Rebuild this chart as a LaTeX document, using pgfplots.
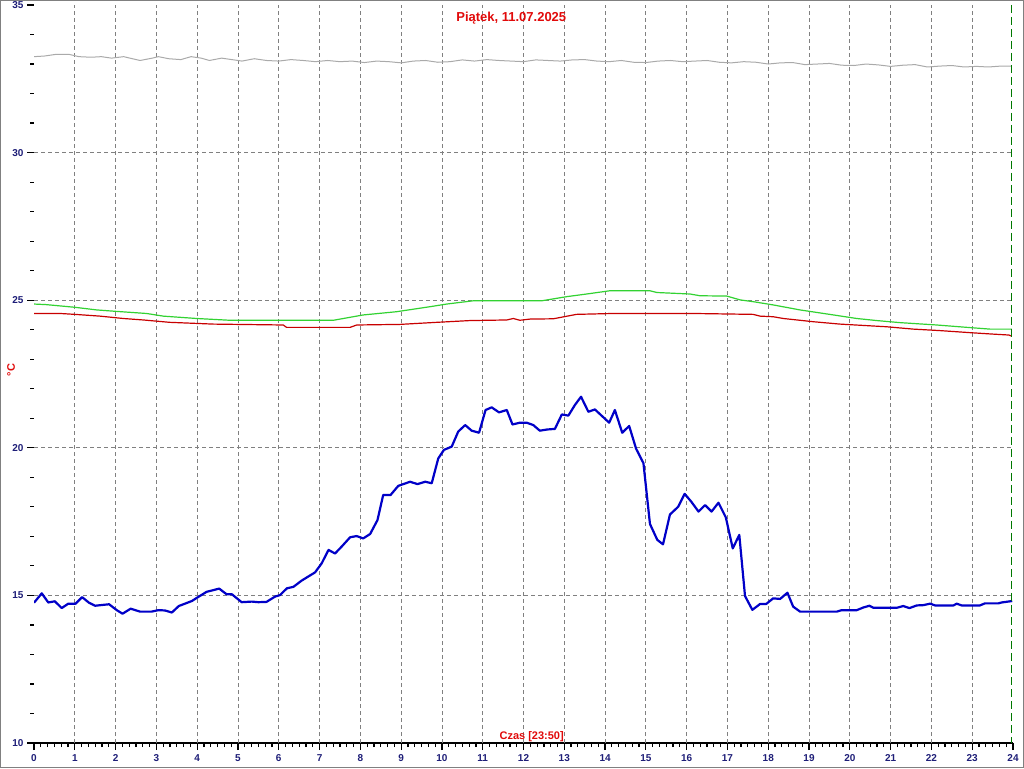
\documentclass[border=0pt]{standalone}
\usepackage{fontspec}
\setmainfont{Liberation Sans}
\usepackage{pgfplots}
\pgfplotsset{compat=1.18}

\definecolor{navylab}{RGB}{30,30,120}
\definecolor{titlered}{RGB}{225,10,10}
\definecolor{tblue}{RGB}{0,0,200}
\definecolor{tgreen}{RGB}{50,210,50}
\definecolor{tred}{RGB}{200,0,0}
\definecolor{tgray}{RGB}{170,170,170}
\definecolor{gridgray}{RGB}{128,128,128}
\definecolor{nowgreen}{RGB}{0,120,0}

\begin{document}
\begin{tikzpicture}
\path[use as bounding box] (0pt,0pt) rectangle (1024pt,768pt);
\fill[white] (0pt,0pt) rectangle (1024pt,768pt);
\draw[gray, line width=1pt] (0.5pt,0.5pt) rectangle (1023.5pt,767.5pt);

\begin{axis}[
    at={(34pt,25pt)}, anchor=south west,
    scale only axis, width=979pt, height=738pt,
    xmin=0, xmax=24, ymin=10, ymax=35,
    axis x line*=bottom, axis y line*=left,
    axis line style={-},
    y axis line style={draw=none},
    x axis line style={black, line width=1.2pt},
    xtick={0,...,24}, minor x tick num=5,
    ytick={10,15,...,35}, minor y tick num=4,
    tick align=outside,
    major tick length=7pt, minor tick length=4pt,
    every tick/.style={black, line width=1.2pt},
    % grid only on the inner lines
    extra x ticks={1,...,23}, extra x tick labels={},
    extra x tick style={grid=major, major tick length=0pt},
    extra y ticks={15,20,25,30}, extra y tick labels={},
    extra y tick style={grid=major, major tick length=0pt},
    major grid style={gridgray, line width=0.8pt, dash pattern=on 4pt off 3pt},
    /pgf/number format/assume math mode=true,
    tick label style={font=\bfseries\fontsize{10}{12}\selectfont, text=navylab},
    xticklabel style={yshift=-1pt},
]

% gray series
\addplot[tgray, line width=1pt] coordinates {
(0,33.25) (0.25,33.27) (0.55,33.33) (0.85,33.33) (1.1,33.25) (1.4,33.23) (1.65,33.25) (1.9,33.2)
(2.2,33.25) (2.35,33.2) (2.6,33.12) (2.9,33.2) (3.05,33.25) (3.3,33.18) (3.6,33.15) (3.85,33.25)
(4.1,33.2) (4.3,33.12) (4.6,33.2) (4.85,33.15) (5.1,33.1) (5.4,33.18) (5.7,33.12) (6.0,33.1)
(6.3,33.15) (6.6,33.12) (6.9,33.08) (7.2,33.12) (7.5,33.08) (7.8,33.1) (8.1,33.05) (8.4,33.1)
(8.7,33.08) (9.0,33.04) (9.3,33.1) (9.6,33.12) (9.9,33.06) (10.2,33.08) (10.5,33.14) (10.8,33.1)
(11.1,33.15) (11.4,33.12) (11.7,33.1) (12.0,33.08) (12.3,33.14) (12.6,33.12) (12.9,33.1) (13.2,33.14)
(13.5,33.15) (13.8,33.1) (14.1,33.08) (14.4,33.12) (14.7,33.06) (15.0,33.05) (15.3,33.1) (15.6,33.12)
(15.9,33.08) (16.2,33.1) (16.5,33.12) (16.8,33.06) (17.1,33.04) (17.4,33.08) (17.7,33.06) (18.0,33.0)
(18.3,33.04) (18.6,33.05) (18.9,32.98) (19.2,33.0) (19.5,33.02) (19.8,32.96) (20.1,32.95) (20.4,33.0)
(20.7,32.97) (21.0,32.92) (21.3,32.96) (21.6,32.98) (21.9,32.9) (22.2,32.93) (22.5,32.95) (22.8,32.9)
(23.1,32.92) (23.4,32.9) (23.7,32.93) (23.97,32.93)
};

% green series
\addplot[tgreen, line width=1.2pt] coordinates {
(0,24.87) (0.3,24.85) (1.0,24.76) (1.54,24.67) (2.03,24.62) (2.76,24.55) (3.17,24.46) (3.99,24.38)
(4.80,24.32) (6.03,24.32) (7.34,24.32) (8.07,24.50) (8.89,24.61) (9.71,24.78) (10.12,24.87)
(10.77,24.98) (12.45,24.98) (13.06,25.12) (13.55,25.21) (14.12,25.32) (15.10,25.32) (15.27,25.26)
(16.08,25.21) (16.33,25.15) (16.98,25.14) (17.31,25.01) (17.63,24.95) (18.12,24.84) (18.78,24.67)
(19.60,24.50) (20.17,24.38) (20.66,24.31) (21.23,24.24) (22.13,24.16) (22.87,24.08) (23.44,24.02)
(23.97,24.02)
};

% red series
\addplot[tred, line width=1.2pt] coordinates {
(0,24.55) (0.64,24.55) (1.0,24.52) (1.62,24.46) (2.19,24.38) (2.68,24.33) (3.33,24.25) (4.40,24.19)
(6.11,24.16) (6.19,24.08) (7.75,24.08) (7.91,24.16) (8.97,24.18) (9.87,24.25) (10.69,24.31)
(11.59,24.33) (11.75,24.38) (11.91,24.32) (12.16,24.36) (12.73,24.37) (13.30,24.52) (14.20,24.55)
(16.16,24.55) (17.63,24.52) (17.80,24.46) (18.12,24.44) (18.37,24.38) (19.11,24.27) (19.76,24.19)
(20.90,24.10) (21.56,24.02) (22.21,23.97) (22.95,23.90) (23.52,23.85) (23.90,23.82) (23.97,23.78)
};

% blue series
\addplot[tblue, line width=2.2pt, line join=round] coordinates {
(0.00,14.75) (0.19,15.07) (0.35,14.76) (0.51,14.80) (0.68,14.57) (0.84,14.72) (1.02,14.72)
(1.18,14.94) (1.35,14.75) (1.50,14.65) (1.84,14.70) (2.03,14.50) (2.17,14.38) (2.37,14.55)
(2.60,14.45) (2.88,14.45) (3.05,14.50) (3.21,14.49) (3.38,14.42) (3.55,14.64) (3.87,14.81)
(4.03,14.95) (4.23,15.12) (4.54,15.23) (4.72,15.04) (4.85,15.04) (5.09,14.77) (5.34,14.79)
(5.50,14.77) (5.70,14.78) (5.91,14.96) (6.03,15.01) (6.20,15.24) (6.36,15.29) (6.56,15.50)
(6.89,15.78) (7.05,16.08) (7.22,16.54) (7.38,16.42) (7.54,16.65) (7.75,16.97) (7.91,17.01)
(8.07,16.93) (8.24,17.08) (8.42,17.55) (8.56,18.40) (8.74,18.40) (8.93,18.71) (9.22,18.85)
(9.40,18.77) (9.59,18.85) (9.75,18.80) (9.91,19.64) (10.05,19.93) (10.24,20.04) (10.40,20.55)
(10.57,20.77) (10.73,20.58) (10.91,20.51) (11.07,21.28) (11.22,21.37) (11.40,21.20) (11.59,21.28)
(11.73,20.79) (11.91,20.85) (12.08,20.85) (12.24,20.77) (12.40,20.58) (12.58,20.62) (12.77,20.64)
(12.94,21.13) (13.10,21.09) (13.26,21.45) (13.41,21.73) (13.59,21.22) (13.75,21.30) (14.10,20.85)
(14.24,21.28) (14.42,20.51) (14.59,20.74) (14.76,19.97) (14.94,19.48) (15.10,17.42) (15.28,16.88)
(15.42,16.73) (15.59,17.74) (15.79,18.00) (15.95,18.44) (16.11,18.18) (16.29,17.84) (16.45,18.06)
(16.61,17.84) (16.78,18.14) (16.96,17.64) (17.13,16.59) (17.29,17.05) (17.43,14.98) (17.61,14.51)
(17.80,14.71) (17.95,14.71) (18.12,14.90) (18.29,14.88) (18.47,15.09) (18.61,14.62) (18.78,14.45)
(19.27,14.45) (19.68,14.45) (19.80,14.50) (20.17,14.50) (20.33,14.59) (20.48,14.65) (20.58,14.58)
(21.15,14.58) (21.31,14.64) (21.46,14.57) (21.64,14.66) (21.80,14.67) (21.97,14.72) (22.09,14.66)
(22.54,14.66) (22.62,14.72) (22.74,14.66) (23.19,14.66) (23.31,14.73) (23.64,14.73) (23.72,14.76)
(23.93,14.80) (23.98,14.81)
};

% current time marker
\addplot[nowgreen, line width=1.2pt, dash pattern=on 8pt off 4pt] coordinates {(23.97,35) (23.97,10)};

\node[text=titlered, font=\bfseries\fontsize{13}{15}\selectfont] at (axis cs:11.7,34.55) {Piątek, 11.07.2025};
\node[text=titlered, font=\bfseries\fontsize{11}{13}\selectfont] at (axis cs:12.2,10.2) {Czas [23:50]};
\end{axis}

\node[rotate=90, text=titlered, font=\bfseries\fontsize{11}{13}\selectfont] at (11pt,398pt) {°C};
\end{tikzpicture}
\end{document}
